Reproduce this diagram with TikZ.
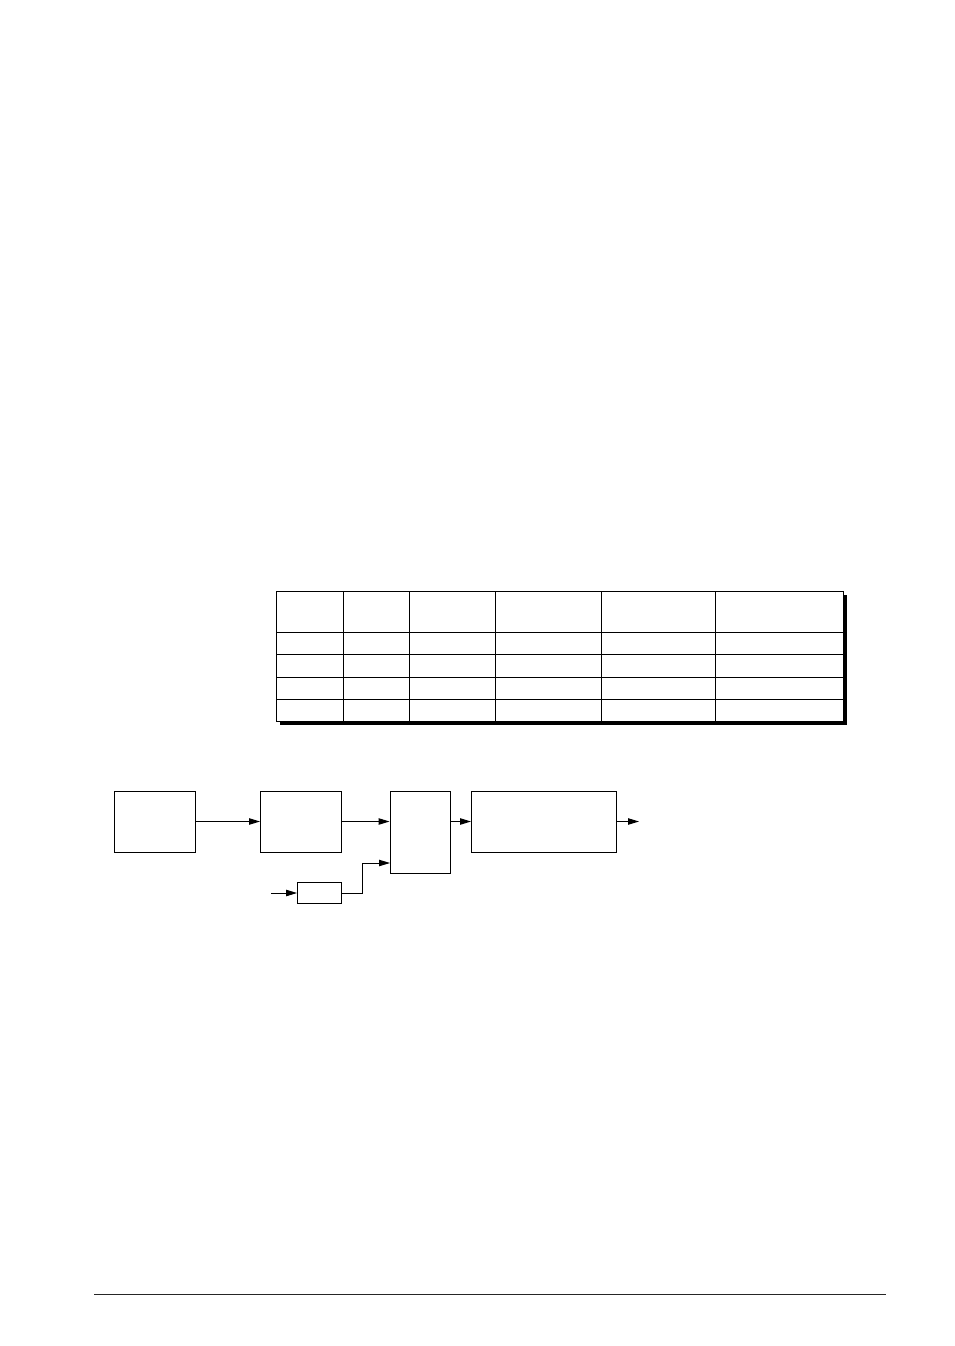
\documentclass[tikz,border=0pt]{standalone}
\usetikzlibrary{arrows.meta}

\newcommand{\pu}{0.2201mm}

\tikzset{
  block/.style={draw,line width=0.6pt,inner sep=0pt},
  link/.style={line width=0.6pt,-{Triangle[length=2.4mm,width=1.4mm]}},
  grid/.style={line width=0.6pt}
}

\begin{document}
\begin{tikzpicture}[x=\pu,y=-\pu]
  \useasboundingbox (0,0) rectangle (954,1346);

  % Table with shadow
  \fill (280,595) rectangle (846.5,725);
  \filldraw[grid,fill=white] (276,591) rectangle (843,721);
  \foreach \c in {343,409,495,601,715}
  {
    \draw[grid] (\c,591) -- (\c,721);
  }
  \foreach \r in {632,654,677,699}
  {
    \draw[grid] (276,\r) -- (843,\r);
  }

  % Blocks
  \node[block,minimum width=81*\pu,minimum height=61*\pu] (src) at (155,821.5) {};
  \node[block,minimum width=81*\pu,minimum height=61*\pu] (proc) at (301,821.5) {};
  \node[block,minimum width=60*\pu,minimum height=82*\pu] (mix) at (420,832) {};
  \node[block,minimum width=145*\pu,minimum height=61*\pu] (out) at (544,821.5) {};
  \node[block,minimum width=44*\pu,minimum height=21*\pu] (aux) at (319.5,893) {};

  % Free ends
  \coordinate (auxin) at (271,893);
  \coordinate (mixin) at (390,863);
  \coordinate (res) at (639,821.5);

  % Connectors
  \draw[link] (src) -- (proc);
  \draw[link] (proc.east) -- (proc.east -| mix.west);
  \draw[link] (proc.east -| mix.east) -- (out.west);
  \draw[link] (out.east) -- (res);
  \draw[link] (auxin) -- (aux.west);
  \draw[link] (aux.east) -- ++(20,0) |- (mixin);

  % Footer rule
  \draw[line width=0.6pt,black!85] (94,1294) -- (886,1294);
\end{tikzpicture}
\end{document}
